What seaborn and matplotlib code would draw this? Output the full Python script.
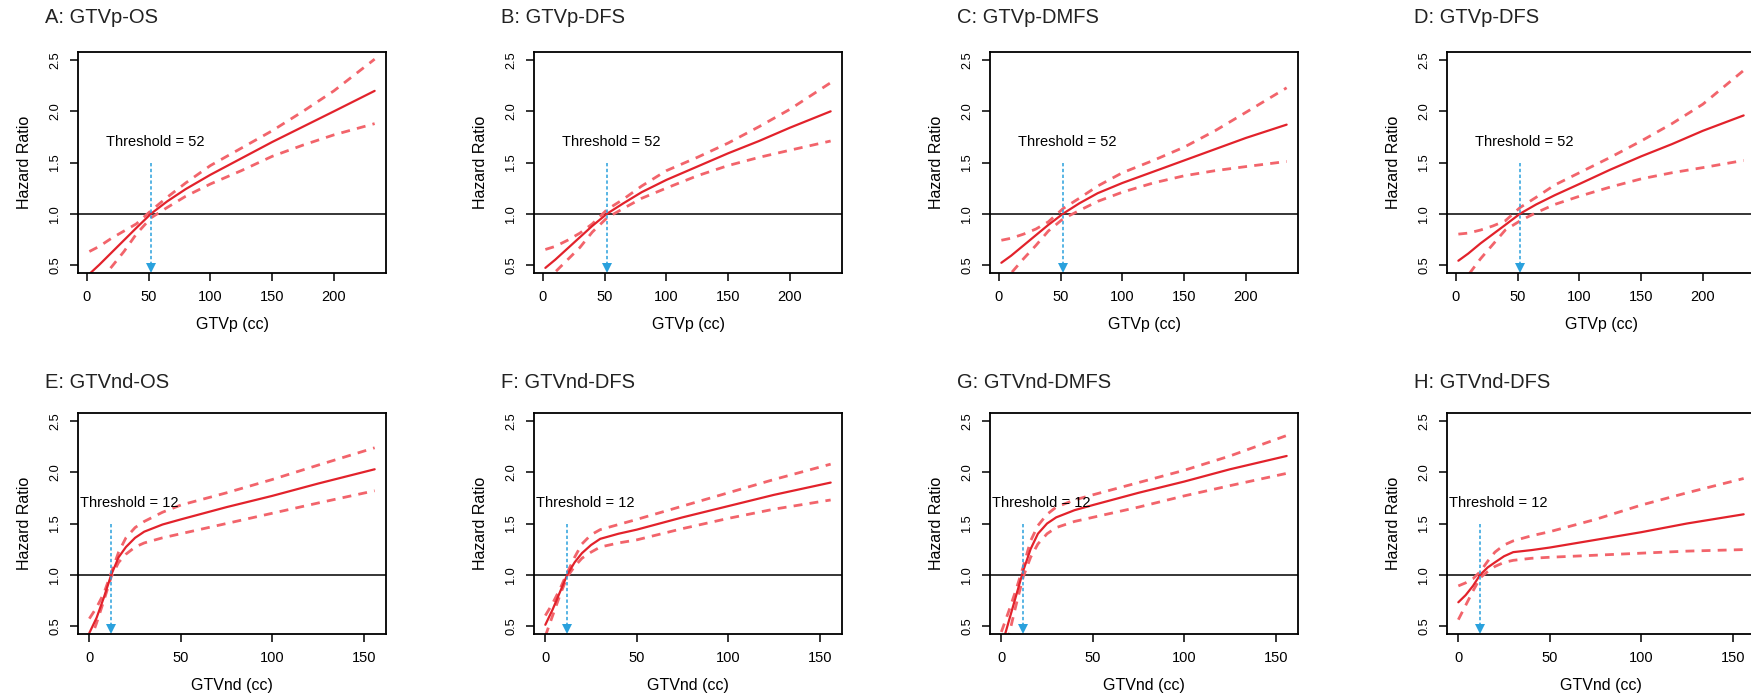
import numpy as np
import pandas as pd
import matplotlib
matplotlib.use("Agg")
import matplotlib.pyplot as plt
import seaborn as sns

# --- values ---
# row 1: primary tumour volume (GTVp), row 2: nodal volume (GTVnd)
x_p = [2, 10, 20, 30, 40, 52, 65, 80, 100, 125, 150, 175, 200, 233]
x_nd = [0, 4, 8, 12, 16, 20, 25, 30, 40, 50, 75, 100, 125, 156]

a_hr = [0.41, 0.50, 0.62, 0.74, 0.86, 1.00, 1.12, 1.24, 1.38, 1.54, 1.70, 1.85, 2.00, 2.20]
a_hi = [0.63, 0.68, 0.76, 0.83, 0.90, 1.03, 1.16, 1.30, 1.47, 1.64, 1.81, 2.00, 2.20, 2.51]
a_lo = [0.23, 0.34, 0.48, 0.63, 0.80, 0.96, 1.06, 1.17, 1.29, 1.42, 1.56, 1.67, 1.77, 1.88]

b_hr = [0.47, 0.55, 0.66, 0.77, 0.88, 1.00, 1.10, 1.21, 1.33, 1.46, 1.59, 1.71, 1.84, 2.00]
b_hi = [0.65, 0.68, 0.74, 0.81, 0.90, 1.04, 1.14, 1.27, 1.42, 1.55, 1.69, 1.85, 2.02, 2.28]
b_lo = [0.32, 0.43, 0.55, 0.67, 0.82, 0.96, 1.05, 1.15, 1.25, 1.37, 1.47, 1.55, 1.62, 1.71]

c_hr = [0.52, 0.59, 0.69, 0.79, 0.89, 1.00, 1.10, 1.20, 1.30, 1.41, 1.52, 1.63, 1.74, 1.87]
c_hi = [0.74, 0.76, 0.80, 0.85, 0.92, 1.05, 1.15, 1.27, 1.40, 1.52, 1.65, 1.81, 1.99, 2.23]
c_lo = [0.31, 0.42, 0.56, 0.69, 0.83, 0.95, 1.03, 1.12, 1.21, 1.30, 1.37, 1.42, 1.46, 1.51]

d_hr = [0.54, 0.61, 0.71, 0.80, 0.89, 1.00, 1.09, 1.18, 1.29, 1.43, 1.56, 1.68, 1.81, 1.96]
d_hi = [0.80, 0.81, 0.84, 0.88, 0.93, 1.06, 1.16, 1.28, 1.40, 1.55, 1.71, 1.88, 2.07, 2.40]
d_lo = [0.30, 0.40, 0.56, 0.70, 0.84, 0.93, 1.01, 1.09, 1.17, 1.26, 1.34, 1.40, 1.45, 1.52]

e_hr = [0.43, 0.58, 0.78, 1.00, 1.17, 1.27, 1.36, 1.42, 1.49, 1.54, 1.66, 1.77, 1.89, 2.03]
e_hi = [0.57, 0.68, 0.82, 1.02, 1.22, 1.36, 1.46, 1.52, 1.61, 1.68, 1.80, 1.93, 2.07, 2.24]
e_lo = [0.33, 0.53, 0.75, 0.98, 1.12, 1.20, 1.27, 1.31, 1.36, 1.40, 1.50, 1.60, 1.70, 1.82]

f_hr = [0.51, 0.66, 0.83, 1.00, 1.12, 1.21, 1.29, 1.35, 1.40, 1.44, 1.56, 1.67, 1.78, 1.90]
f_hi = [0.60, 0.72, 0.86, 1.02, 1.17, 1.30, 1.39, 1.44, 1.49, 1.54, 1.67, 1.80, 1.93, 2.08]
f_lo = [0.40, 0.60, 0.80, 0.98, 1.08, 1.16, 1.22, 1.27, 1.31, 1.34, 1.45, 1.55, 1.64, 1.73]

g_hr = [0.29, 0.54, 0.79, 1.04, 1.25, 1.40, 1.50, 1.56, 1.63, 1.68, 1.80, 1.91, 2.03, 2.16]
g_hi = [0.44, 0.64, 0.85, 1.08, 1.33, 1.48, 1.59, 1.66, 1.73, 1.78, 1.90, 2.02, 2.16, 2.36]
g_lo = [0.20, 0.40, 0.70, 0.98, 1.17, 1.30, 1.40, 1.46, 1.52, 1.56, 1.66, 1.77, 1.87, 1.99]

h_hr = [0.73, 0.80, 0.89, 1.00, 1.07, 1.12, 1.18, 1.22, 1.24, 1.265, 1.34, 1.415, 1.50, 1.59]
h_hi = [0.89, 0.92, 0.96, 1.03, 1.13, 1.22, 1.29, 1.33, 1.38, 1.42, 1.54, 1.68, 1.80, 1.94]
h_lo = [0.56, 0.70, 0.84, 0.97, 1.03, 1.08, 1.12, 1.14, 1.16, 1.17, 1.19, 1.21, 1.23, 1.245]

titles = ["A: GTVp-OS", "B: GTVp-DFS", "C: GTVp-DMFS", "D: GTVp-DFS",
          "E: GTVnd-OS", "F: GTVnd-DFS", "G: GTVnd-DMFS", "H: GTVnd-DFS"]
thresholds = [52, 12]
xlabels = ["GTVp (cc)", "GTVnd (cc)"]
x_ticks = [[0, 50, 100, 150, 200], [0, 50, 100, 150]]
y_ticks = [0.5, 1.0, 1.5, 2.0, 2.5]

curves = [(a_hr, a_hi, a_lo), (b_hr, b_hi, b_lo), (c_hr, c_hi, c_lo), (d_hr, d_hi, d_lo),
          (e_hr, e_hi, e_lo), (f_hr, f_hi, f_lo), (g_hr, g_hi, g_lo), (h_hr, h_hi, h_lo)]

# --- style ---
sns.set_style("ticks")
plt.rcParams['font.family'] = ['Liberation Sans', 'DejaVu Sans']
plt.rcParams['text.color'] = 'black'
plt.rcParams['xtick.color'] = 'black'
plt.rcParams['ytick.color'] = 'black'
plt.rcParams['axes.labelcolor'] = 'black'
plt.rcParams['axes.edgecolor'] = 'black'

RED = "#e2222b"
PINK = "#f2646b"
BLUE = "#2aa1dd"

W, H = 1751, 700
fig = plt.figure(figsize=(W / 100, H / 100), dpi=100)

lefts = [78, 534, 990, 1447]
bottoms = [273, 634]
aw, ah = 308, 221
xlims = [(-7.2, 242.2), (-6.2, 162.2)]
ylim = (0.42, 2.58)
text_x = [55, 22]

for i, (title, (hr, hi, lo)) in enumerate(zip(titles, curves)):
    row, col = divmod(i, 4)
    xs = x_p if row == 0 else x_nd
    ax = fig.add_axes([lefts[col] / W, 1 - bottoms[row] / H, aw / W, ah / H])

    df = pd.DataFrame({"x": xs, "hr": hr, "hi": hi, "lo": lo})
    sns.lineplot(data=df, x="x", y="hi", ax=ax, color=PINK, lw=2.0, dashes=False,
                 linestyle=(0, (3.2, 2.6)))
    sns.lineplot(data=df, x="x", y="lo", ax=ax, color=PINK, lw=2.0, dashes=False,
                 linestyle=(0, (3.2, 2.6)))
    sns.lineplot(data=df, x="x", y="hr", ax=ax, color=RED, lw=1.6)

    ax.axhline(1.0, color="black", lw=1.1, zorder=1)

    # threshold arrow
    thr = thresholds[row]
    ax.plot([thr, thr], [1.5, ylim[0] + 0.05], color=BLUE, lw=1.1,
            linestyle=(0, (2.2, 1.6)))
    ax.plot([thr], [ylim[0] + 0.045], marker="v", color=BLUE, markersize=7.5,
            markeredgewidth=0, clip_on=False)
    ax.text(text_x[row], 1.70, f"Threshold = {thr}", ha="center", va="center",
            fontsize=10.5)

    ax.set_xlim(*xlims[row])
    ax.set_ylim(*ylim)
    ax.set_xticks(x_ticks[row])
    ax.set_yticks(y_ticks)
    ax.set_yticklabels([f"{v:.1f}" for v in y_ticks], rotation=90, va="center")
    ax.tick_params(axis="x", length=6, width=1.1, pad=6.5, labelsize=10.5)
    ax.tick_params(axis="y", length=6, width=1.1, pad=6, labelsize=9.2)
    for s in ax.spines.values():
        s.set_linewidth(1.3)
        s.set_visible(True)

    ax.set_xlabel(xlabels[row], fontsize=11.5)
    ax.set_ylabel("Hazard Ratio", fontsize=11.5)
    ax.xaxis.set_label_coords(0.5, -0.2)
    ax.yaxis.set_label_coords(-0.15, 0.5)

    ty = 1.154 if row == 0 else 1.14
    ax.text(-33 / aw, ty, title, transform=ax.transAxes, ha="left", va="center",
            fontsize=14.5, color="#222222")

fig.savefig("out.png", dpi=100)
